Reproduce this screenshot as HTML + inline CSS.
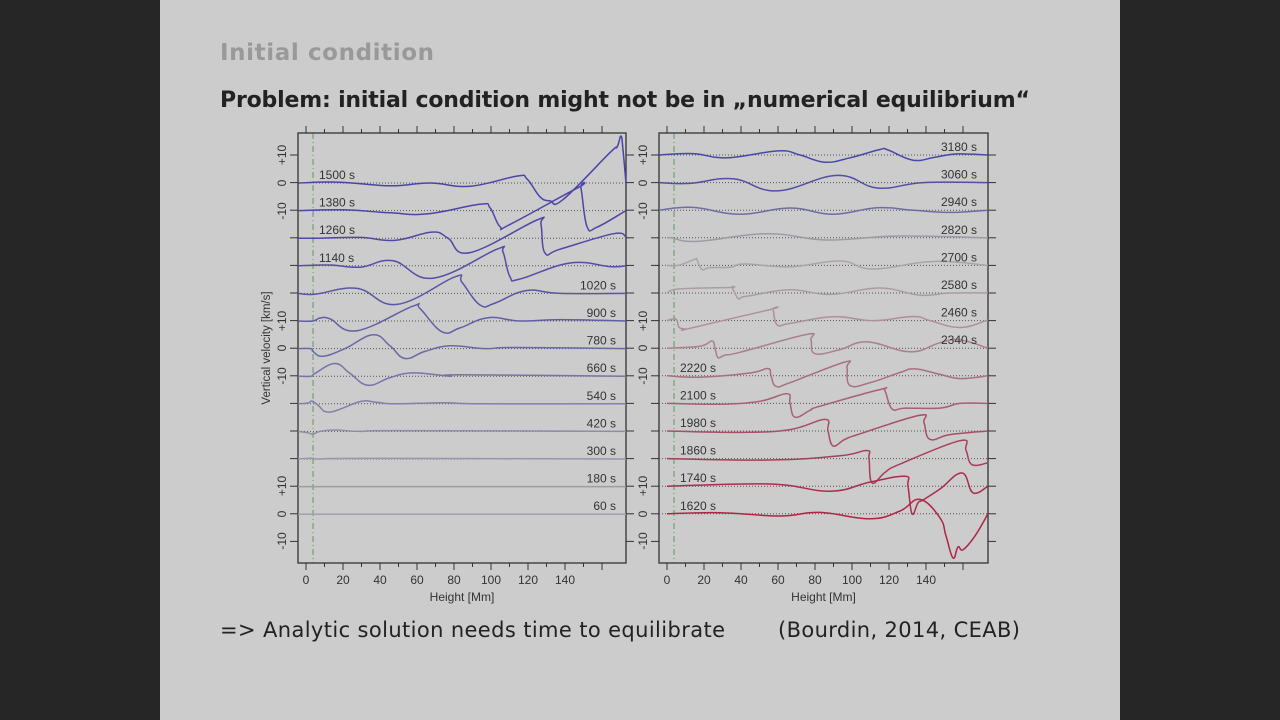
<!DOCTYPE html>
<html><head><meta charset="utf-8"><style>
html,body{margin:0;padding:0;width:1280px;height:720px;overflow:hidden;background:#2a2a2a}
svg{display:block}
</style></head><body>
<svg id="s" width="1280" height="720" xmlns="http://www.w3.org/2000/svg">
<rect x="0" y="0" width="1280" height="720" fill="#262626"/>
<rect x="160" y="0" width="960" height="720" fill="#cbcccb"/>
<text x="220" y="60" font-family="DejaVu Sans, Liberation Sans, sans-serif" font-weight="bold" font-size="23" fill="#999" textLength="214">Initial condition</text>
<text x="220" y="107" font-family="DejaVu Sans, Liberation Sans, sans-serif" font-weight="bold" font-size="22" fill="#222" textLength="810">Problem: initial condition might not be in „numerical equilibrium“</text>
<text x="220" y="637" font-family="DejaVu Sans, Liberation Sans, sans-serif" font-size="21" fill="#222" textLength="505">=&gt; Analytic solution needs time to equilibrate</text>
<text x="778" y="637" font-family="DejaVu Sans, Liberation Sans, sans-serif" font-size="21" fill="#222" textLength="242">(Bourdin, 2014, CEAB)</text>
<text transform="translate(270,348) rotate(-90)" text-anchor="middle" font-family="Liberation Sans, sans-serif" font-size="11.5" fill="#333">Vertical velocity [km/s]</text>
<g id="g"></g>
</svg>
<script>
var g=document.getElementById('g'),NS='http://www.w3.org/2000/svg';
function el(t,a,txt){var e=document.createElementNS(NS,t);for(var k in a)e.setAttribute(k,a[k]);if(txt)e.textContent=txt;g.appendChild(e);return e;}
var U=2.76;
function cr(pts){var d='M'+pts[0][0]+','+pts[0][1];for(var i=0;i<pts.length-1;i++){var p0=pts[i-1]||pts[i],p1=pts[i],p2=pts[i+1],p3=pts[i+2]||p2;var t=0.2;d+=' C'+(p1[0]+(p2[0]-p0[0])*t).toFixed(1)+','+(p1[1]+(p2[1]-p0[1])*t).toFixed(1)+' '+(p2[0]-(p3[0]-p1[0])*t).toFixed(1)+','+(p2[1]-(p3[1]-p1[1])*t).toFixed(1)+' '+p2[0]+','+p2[1];}return d;}
var F='Liberation Sans, sans-serif';
function panel(x0,x1){
 var top=133,bot=563,ox=x0+8;
 for(var y=155;y<=542;y+=27.6){
  el('line',{x1:x0-8,x2:x0,y1:y,y2:y,stroke:'#333','stroke-width':1});
  el('line',{x1:x1,x2:x1+8,y1:y,y2:y,stroke:'#333','stroke-width':1});
 }
 for(var m=0;m<=160;m+=10){var x=ox+m*1.85;var L=(m%20==0)?7:4;
  el('line',{x1:x,x2:x,y1:bot,y2:bot+L,stroke:'#333'});
  el('line',{x1:x,x2:x,y1:top,y2:top-L,stroke:'#333'});
  if(m%20==0&&m<=140)el('text',{x:x,y:bot+21,'text-anchor':'middle','font-family':F,'font-size':12,fill:'#333'},''+m);}
 el('text',{x:(x0+x1)/2,y:bot+38,'text-anchor':'middle','font-family':F,'font-size':12,fill:'#333'},'Height [Mm]');
 el('line',{x1:ox+3.8*1.85,x2:ox+3.8*1.85,y1:top,y2:bot,stroke:'#5a9a5a','stroke-dasharray':'6,3,1,3'});
 el('rect',{x:x0,y:top,width:x1-x0,height:bot-top,fill:'none',stroke:'#333','stroke-width':1.3});
}
function ylab(x){[[155,'+10'],[183,'0'],[211,'-10'],[321,'+10'],[348,'0'],[376,'-10'],[486,'+10'],[514,'0'],[541,'-10']].forEach(function(a){
 el('text',{transform:'translate('+x+','+a[0]+') rotate(-90)','text-anchor':'middle','font-family':F,'font-size':12,fill:'#333'},a[1]);});}
panel(298,626);panel(659,988);
ylab(286);ylab(647);
function row(zero,x0,x1,pts,col,lab,lx,anchor){
 el('line',{x1:x0,x2:x1,y1:zero,y2:zero,stroke:'#555','stroke-dasharray':'1,2','stroke-width':1});
 var p=pts.map(function(q){return [q[0],+(zero-q[1]*U).toFixed(1)];});
 el('path',{d:cr(p),fill:'none',stroke:col,'stroke-width':1.5});
 el('text',{x:lx,y:zero-4,'text-anchor':anchor,'font-family':F,'font-size':12,fill:'#333'},lab);
}
var L=[
['1500 s','#4a44a8',[[298,0],[340,0.3],[390,-1],[430,0],[470,-1.2],[517,2.5],[527,1.5],[540,-5],[550,-6.5],[563,-6],[610,11],[617,13],[621,17],[623,12],[626,0]]],
['1380 s','#4c46a6',[[298,0],[343,0.3],[390,-0.8],[427,-1.2],[480,2.3],[490,1],[500,-5.8],[510,-5],[578,8.3],[581,8],[587,-5.8],[597,-6],[626,0]]],
['1260 s','#5048a6',[[298,0],[320,0],[360,0.3],[395,-0.8],[432,2.2],[448,0],[470,-5.2],[537,6.6],[541,5],[545,-5.4],[560,-4],[613,1.6],[626,0.5]]],
['1140 s','#544ea6',[[298,0],[330,0.3],[360,-0.5],[393,1.8],[433,-4.5],[497,6],[503,5],[510,-4],[520,-4.8],[570,1],[610,-0.3],[626,0]]],
['1020 s','#5a56a6',[[298,0],[315,-0.3],[357,1.8],[397,-4],[455,6],[462,4],[480,-4.2],[495,-3.5],[526,1],[560,0],[626,0]]],
['900 s','#625ea6',[[298,0],[313,0],[320,1.1],[330,0.8],[357,-3.5],[413,5.4],[420,4.5],[442,-3.9],[460,-2.5],[488,1.2],[520,0],[560,0.5],[626,0]]],
['780 s','#6c68a6',[[298,0],[311,0],[313,-1],[323,-2.8],[345,0],[373,5],[390,1],[405,-3.6],[425,-1],[450,1],[485,0],[515,0.4],[626,0]]],
['660 s','#7874a8',[[298,0],[311,0],[315,1],[335,4.6],[350,1],[368,-3.3],[390,-0.5],[413,1.2],[450,0],[460,0.5],[626,0]]],
['540 s','#8480a8',[[298,0],[308,0.3],[312,1],[318,-0.5],[330,-3],[360,0.8],[375,0.6],[395,0],[445,0.4],[480,0],[626,0]]],
['420 s','#8e8ca8',[[298,0],[308,-0.5],[313,-1],[320,0],[335,0.5],[360,0],[400,0.3],[626,0]]],
['300 s','#9896a8',[[298,0],[312,0.3],[320,0],[365,0.2],[626,0]]],
['180 s','#9e9ca8',[[298,0],[626,0]]],
['60 s','#a2a0a8',[[298,0],[626,0]]]];
L.forEach(function(r,i){var z=183+i*27.6;row(z,298,626,r[2],r[1],r[0],i<4?319:616,i<4?'start':'end');});
var R=[
['3180 s','#4848a8',[[659,0],[693,0.5],[727,-1],[778,1.5],[800,0],[825,-2.6],[850,-1],[880,2],[888,1.8],[913,-1.9],[935,-0.8],[957,0.4],[988,0]]],
['3060 s','#5050a4',[[659,0],[690,-0.3],[733,1.4],[777,-3],[837,2.6],[878,-2],[923,0],[988,0]]],
['2940 s','#6e6ca4',[[659,0],[693,1],[740,-1.5],[790,0.8],[833,-1.5],[877,0.9],[913,0],[950,-0.8],[988,0]]],
['2820 s','#9c9aa6',[[667,0],[672,0],[697,-1.3],[767,1.5],[827,-0.8],[897,0.6],[988,0]]],
['2700 s','#aaa4aa',[[667,0],[678,0],[695,2.2],[697,2],[702,-1.5],[710,-0.8],[730,-0.7],[745,0.5],[790,-0.5],[840,1.6],[873,-1.3],[933,1.4],[988,0]]],
['2580 s','#aa9ca4',[[667,0],[680,1.5],[730,2],[732,2],[738,-2],[742,-1.5],[750,-1],[790,1.2],[830,-0.5],[880,1.8],[920,-0.8],[950,0],[988,0]]],
['2460 s','#ae909c',[[667,0],[676,0.5],[679,-2.4],[685,-3],[690,-2.8],[770,4],[773,4],[777,-1.5],[790,-1],[833,1.4],[873,0],[913,1.5],[930,0],[960,-2.5],[988,0.2]]],
['2340 s','#aa808e',[[667,0],[700,0.7],[712,2.6],[715,0],[718,-3.4],[725,-2.5],[740,-1.5],[807,5],[811,3],[815,-2],[840,-0.5],[867,2.3],[910,-1.3],[940,2],[960,3],[988,0]]],
['2220 s','#a87080',[[667,0],[700,-0.5],[750,1],[768,2.6],[771,0],[776,-3.8],[790,-2.5],[845,5],[847,3],[850,-3.5],[870,-2.5],[900,1.2],[915,2.5],[940,0.5],[960,-1],[988,0]]],
['2100 s','#a86074',[[667,0],[720,-0.3],[760,0.8],[787,3.5],[790,0],[795,-5],[810,-2.5],[820,-1],[880,5],[885,4.5],[892,-2],[905,-1.7],[940,-1.7],[960,0],[988,0]]],
['1980 s','#a84e66',[[667,0],[740,-0.5],[790,0.5],[825,4.2],[828,0],[833,-5.4],[845,-3],[860,-1],[920,5.7],[924,3],[930,-3],[950,-1.3],[988,0]]],
['1860 s','#a83e5a',[[667,0],[770,-0.5],[840,1],[867,2.9],[869,0],[872,-8.8],[885,-5],[900,-2],[960,6.5],[966,3],[972,-2.2],[988,-1.5]]],
['1740 s','#a82e4e',[[667,0],[770,0.8],[830,-1.8],[870,1.5],[905,3.6],[908,0],[912,-10],[918,-6],[923,-5],[940,-1],[962,4.8],[973,-2.4],[988,0]]],
['1620 s','#b02444',[[667,0],[720,0.4],[780,-0.8],[820,0.5],[870,-1.8],[900,1],[920,5.2],[940,-1.5],[946,-8],[953,-16],[958,-12],[963,-13],[975,-8],[988,0]]]];
R.forEach(function(r,i){var z=155+i*27.6;row(z,659,988,r[2],r[1],r[0],i<8?977:680,i<8?'end':'start');});
</script>
</body></html>
